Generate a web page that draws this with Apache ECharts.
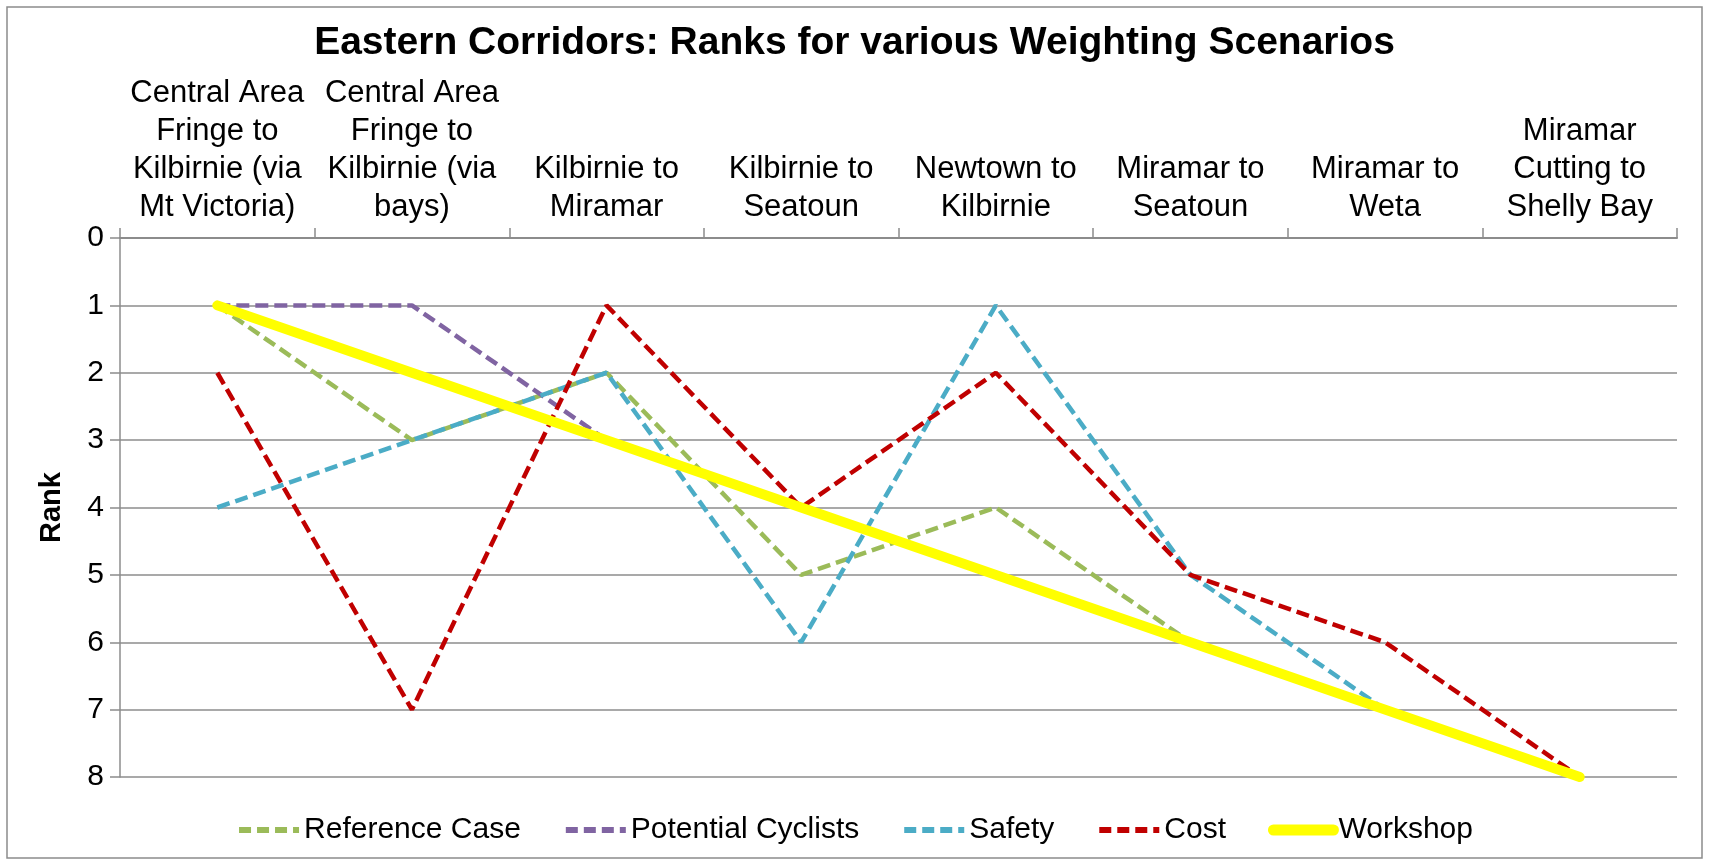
<!DOCTYPE html>
<html>
<head>
<meta charset="utf-8">
<style>
  html, body { margin: 0; padding: 0; background: #fff; }
  #chart { width: 1709px; height: 860px; }
</style>
<script src="https://cdn.jsdelivr.net/npm/echarts@6/dist/echarts.min.js"></script>
</head>
<body>
<div id="chart"></div>
<script>
// corridors, labels split the way the original wraps them
const corridors = [
  'Central Area\nFringe to\nKilbirnie (via\nMt Victoria)',
  'Central Area\nFringe to\nKilbirnie (via\nbays)',
  'Kilbirnie to\nMiramar',
  'Kilbirnie to\nSeatoun',
  'Newtown to\nKilbirnie',
  'Miramar to\nSeatoun',
  'Miramar to\nWeta',
  'Miramar\nCutting to\nShelly Bay'
]

const referenceCase = [1, 3, 2, 5, 4, 6, 7, 8]
const potentialCyclists = [1, 1, 3, 4, 5, 6, 7, 8]
const safety = [4, 3, 2, 6, 1, 5, 7, 8]
const cost = [2, 7, 1, 4, 2, 5, 6, 8]
const workshop = [1, 2, 3, 4, 5, 6, 7, 8]

const rankTicks = [0, 1, 2, 3, 4, 5, 6, 7, 8]

const font = "'Liberation Sans', Arial, sans-serif"

const dashed = (name, data, color) => ({
  name,
  type: 'line',
  data,
  showSymbol: false,
  symbol: 'none',
  animation: false,
  lineStyle: { color, width: 4.5, type: [13, 6] },
  itemStyle: { color }
})

const legendItem = (name, width, type) => ({
  name,
  itemStyle: { opacity: 0 },
  lineStyle: { width, type }
})

const chart = echarts.init(document.getElementById('chart'))

chart.setOption({
  backgroundColor: '#fff',
  title: {
    text: 'Eastern Corridors: Ranks for various Weighting Scenarios',
    left: 'center',
    top: 19,
    textStyle: { fontFamily: font, fontSize: 39, fontWeight: 'bold', color: '#000' }
  },
  grid: { left: 120, right: 32, top: 238, bottom: 83, containLabel: false },
  legend: {
    bottom: 10,
    left: 'center',
    itemWidth: 60,
    itemHeight: 14,
    itemGap: 42,
    textStyle: { fontFamily: font, fontSize: 30, color: '#000' },
    data: [
      legendItem('Reference Case', 6, [12, 6]),
      legendItem('Potential Cyclists', 6, [12, 6]),
      legendItem('Safety', 6, [12, 6]),
      legendItem('Cost', 6, [12, 6]),
      legendItem('Workshop', 11, 'solid')
    ]
  },
  graphic: [{
    type: 'rect',
    shape: { x: 7, y: 7, width: 1695, height: 851 },
    style: { fill: 'none', stroke: '#8c8c8c', lineWidth: 1.5 },
    silent: true
  }],
  xAxis: {
    type: 'category',
    position: 'top',
    data: corridors,
    boundaryGap: true,
    axisLine: { show: true, lineStyle: { color: '#8c8c8c', width: 2 } },
    axisTick: { show: true, inside: false, length: 10, lineStyle: { color: '#8c8c8c', width: 1.5 } },
    axisLabel: {
      interval: 0,
      margin: 12,
      fontFamily: font,
      fontSize: 31,
      lineHeight: 38,
      color: '#000',
      align: 'center'
    }
  },
  yAxis: {
    type: 'value',
    inverse: true,
    min: 0,
    max: 8,
    interval: 1,
    name: 'Rank',
    nameLocation: 'middle',
    nameGap: 54,
    nameRotate: 90,
    nameTextStyle: { fontFamily: font, fontSize: 29, fontWeight: 'bold', color: '#000' },
    axisLine: { show: true, lineStyle: { color: '#8c8c8c', width: 1.5 } },
    axisTick: { show: true, length: 10, lineStyle: { color: '#8c8c8c', width: 1.5 } },
    axisLabel: {
      margin: 16,
      fontFamily: font,
      fontSize: 30,
      color: '#000',
      formatter: (v) => rankTicks.includes(v) ? String(v) : ''
    },
    splitLine: { show: true, lineStyle: { color: '#8c8c8c', width: 1.5 } }
  },
  series: [
    dashed('Reference Case', referenceCase, '#9BBB59'),
    dashed('Potential Cyclists', potentialCyclists, '#8064A2'),
    dashed('Safety', safety, '#4BACC6'),
    dashed('Cost', cost, '#C00000'),
    {
      name: 'Workshop',
      type: 'line',
      data: workshop,
      showSymbol: false,
      symbol: 'none',
      animation: false,
      lineStyle: { color: '#FFFF00', width: 10, cap: 'round' },
      itemStyle: { color: '#FFFF00' }
    }
  ]
})

window.addEventListener('resize', () => chart.resize())
</script>
</body>
</html>
